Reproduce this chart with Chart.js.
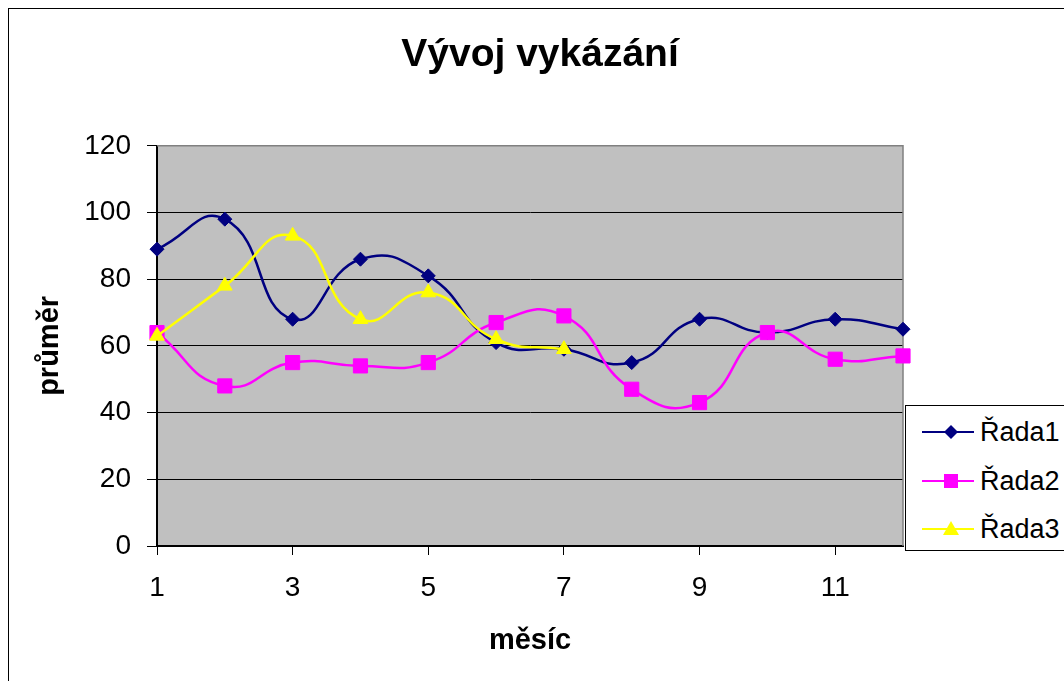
<!DOCTYPE html>
<html>
<head>
<meta charset="utf-8">
<script src="https://cdn.jsdelivr.net/npm/chart.js@4/dist/chart.umd.min.js"></script>
<style>
  body { margin: 0; background: #fff; overflow: hidden; font-family: "Liberation Sans", Arial, sans-serif; }
  #frame { position: absolute; left: 8px; top: 8px; width: 1100px; height: 720px; border: 1px solid #000; }
  #wrap { position: absolute; left: 0; top: 0; width: 1064px; height: 681px; }
  #legend { position: absolute; left: 905px; top: 405px; width: 170px; height: 144px; border: 1px solid #000; background: #fff; }
  .row { position: absolute; left: 16px; height: 30px; display: flex; align-items: center; font-size: 27px; color: #000; }
  .row svg { margin-right: 6px; }
</style>
</head>
<body>
<div id="frame"></div>
<div id="wrap"><canvas id="chart" width="1064" height="681"></canvas></div>
<div id="legend"></div>
<script>
const months = ['1', '2', '3', '4', '5', '6', '7', '8', '9', '10', '11', '12'];
const rada1 = [89, 98, 68, 86, 81, 61, 59, 55, 68, 64, 68, 65];
const rada2 = [64, 48, 55, 54, 55, 67, 69, 47, 43, 64, 56, 57];
const rada3 = [63, 78, 93, 68, 76, 62, 59];
const seriesNames = ['Řada1', 'Řada2', 'Řada3'];
const yMin = 0, yMax = 120, yStep = 20;

const FONT = '"Liberation Sans", Arial, sans-serif';

// grey plot area like the old excel charts
const plotBg = {
  id: 'plotBg',
  beforeDraw(chart) {
    const { ctx, chartArea: a } = chart;
    ctx.save();
    ctx.fillStyle = '#c0c0c0';
    ctx.fillRect(a.left, a.top, a.right - a.left, a.bottom - a.top);
    ctx.restore();
  },
  beforeDatasetsDraw(chart) {
    const { ctx, chartArea: a } = chart;
    ctx.save();
    ctx.strokeStyle = '#808080';
    ctx.lineWidth = 1.5;
    ctx.beginPath();
    ctx.moveTo(a.left, a.top);
    ctx.lineTo(a.right, a.top);
    ctx.lineTo(a.right, a.bottom);
    ctx.stroke();
    ctx.restore();
  }
};

const datasets = [
  { label: seriesNames[0], data: rada1, borderColor: '#000080', backgroundColor: '#000080', pointStyle: 'rectRot', pointRadius: 7, order: 3 },
  { label: seriesNames[1], data: rada2, borderColor: '#ff00ff', backgroundColor: '#ff00ff', pointStyle: 'rect', pointRadius: 10, order: 2 },
  { label: seriesNames[2], data: rada3, borderColor: '#ffff00', backgroundColor: '#ffff00', pointStyle: 'triangle', pointRadius: 8.5, order: 1 }
].map(d => Object.assign(d, { borderWidth: 2.5, pointBorderWidth: 1, tension: 0.5, clip: false, pointHoverRadius: d.pointRadius }));

new Chart(document.getElementById('chart'), {
  type: 'line',
  data: { labels: months, datasets: datasets },
  options: {
    responsive: false,
    animation: false,
    layout: { padding: { left: 16, right: 0, top: 0, bottom: 0 } },
    plugins: {
      legend: { display: false },
      tooltip: { enabled: false },
      title: {
        display: true,
        text: 'Vývoj vykázání',
        color: '#000',
        font: { family: FONT, size: 39, weight: 'bold' },
        padding: { top: 32, bottom: 67 }
      }
    },
    scales: {
      x: {
        offset: false,
        afterFit: s => { s.height = 135; },
        grid: { drawOnChartArea: false, tickLength: 9, tickColor: c => (c.index % 2 === 0 ? '#000' : 'rgba(0,0,0,0)'), tickWidth: 1 },
        border: { color: '#000', width: 2 },
        ticks: {
          autoSkip: false, maxRotation: 0, padding: 16, color: '#000',
          font: { family: FONT, size: 28 },
          callback: (v, i) => (i % 2 === 0 ? months[i] : '')
        },
        title: { display: true, text: 'měsíc', color: '#000', font: { family: FONT, size: 29, weight: 'bold' }, padding: { top: 0, bottom: 23 } }
      },
      y: {
        min: yMin, max: yMax,
        afterFit: s => { s.width = 141; },
        grid: { color: '#000', lineWidth: 1, tickLength: 10, tickColor: '#000' },
        border: { color: '#000', width: 2 },
        ticks: { stepSize: yStep, padding: 16, color: '#000', font: { family: FONT, size: 28 } },
        title: { display: true, text: 'průměr', color: '#000', font: { family: FONT, size: 29, weight: 'bold' }, padding: { top: 17, bottom: 0 } }
      },
      // empty axis that only keeps room on the right for the legend
      yRight: {
        position: 'right',
        min: yMin, max: yMax,
        afterFit: s => { s.width = 161; },
        grid: { display: false },
        border: { display: false },
        ticks: { display: false }
      }
    }
  },
  plugins: [plotBg]
});

// legend drawn as html beside the plot, overlapping it like the original
const shapes = {
  rectRot: c => `<polygon points="29,3 36,10 29,17 22,10" fill="${c}"/>`,
  rect: c => `<rect x="22" y="3" width="14" height="14" fill="${c}"/>`,
  triangle: c => `<polygon points="29,2 37,16 21,16" fill="${c}"/>`
};
const legend = document.getElementById('legend');
const rowTops = [11, 60, 108];
datasets.forEach((d, i) => {
  const row = document.createElement('div');
  row.className = 'row';
  row.style.top = rowTops[i] + 'px';
  row.innerHTML = `<svg width="52" height="20"><line x1="0" y1="10" x2="52" y2="10" stroke="${d.borderColor}" stroke-width="2"/>${shapes[d.pointStyle](d.borderColor)}</svg><span>${d.label}</span>`;
  legend.appendChild(row);
});
</script>
</body>
</html>
